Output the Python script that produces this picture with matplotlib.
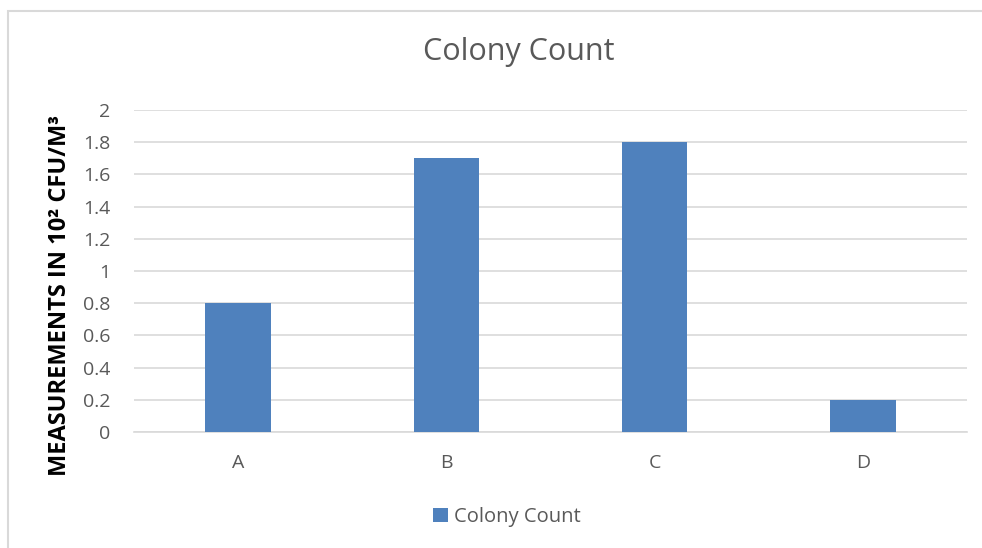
import matplotlib
matplotlib.use("Agg")
import matplotlib.pyplot as plt
from matplotlib.patches import Rectangle

categories = ["A", "B", "C", "D"]
values = [0.8, 1.7, 1.8, 0.2]
series_name = "Colony Count"
yticks = [0, 0.2, 0.4, 0.6, 0.8, 1.0, 1.2, 1.4, 1.6, 1.8, 2.0]
ytick_labels = ["0", "0.2", "0.4", "0.6", "0.8", "1", "1.2", "1.4", "1.6", "1.8", "2"]

plt.rcParams['font.family'] = ['Open Sans', 'DejaVu Sans']

W, H = 982, 548
fig = plt.figure(figsize=(W / 100, H / 100), dpi=100)
fig.patches.append(Rectangle((8 / W, -0.05), 1.1, 1 - 11 / H + 0.05, transform=fig.transFigure,
                             fill=False, edgecolor="#d9d9d9", linewidth=1.5))

ax = fig.add_axes([134 / W, 1 - 432 / H, (967 - 134) / W, (432 - 110) / H])
x = range(len(categories))
ax.bar(x, values, width=0.315, color="#4f81bd", label=series_name, zorder=3)
ax.set_xlim(-0.5, len(categories) - 0.5)
ax.set_ylim(0, 2)
ax.set_yticks(yticks)
ax.set_yticklabels(ytick_labels)
ax.set_xticks(list(x))
ax.set_xticklabels(categories)
ax.grid(axis="y", color="#d9d9d9", linewidth=1.2, zorder=0)
for s in ["top", "right", "left"]:
    ax.spines[s].set_visible(False)
ax.spines["bottom"].set_color("#d9d9d9")
ax.spines["bottom"].set_linewidth(1.2)
ax.tick_params(axis="both", length=0, labelsize=14, labelcolor="#595959")
ax.tick_params(axis="y", pad=17)
ax.tick_params(axis="x", pad=16)
fig.text(60 / W, 1 - 295 / H, "MEASUREMENTS IN 10² CFU/M³", rotation=90, ha="center", va="center",
         fontsize=17, fontweight="bold", color="black")
fig.text(519 / W, 1 - 52 / H, "Colony Count", ha="center", va="center", fontsize=22, color="#595959")
fig.legend(loc="center", bbox_to_anchor=(507 / W, 1 - 517 / H), frameon=False, fontsize=14.5,
           handlelength=0.75, handleheight=0.75, handletextpad=0.3, labelcolor="#595959")
fig.savefig("out.png", dpi=100)
